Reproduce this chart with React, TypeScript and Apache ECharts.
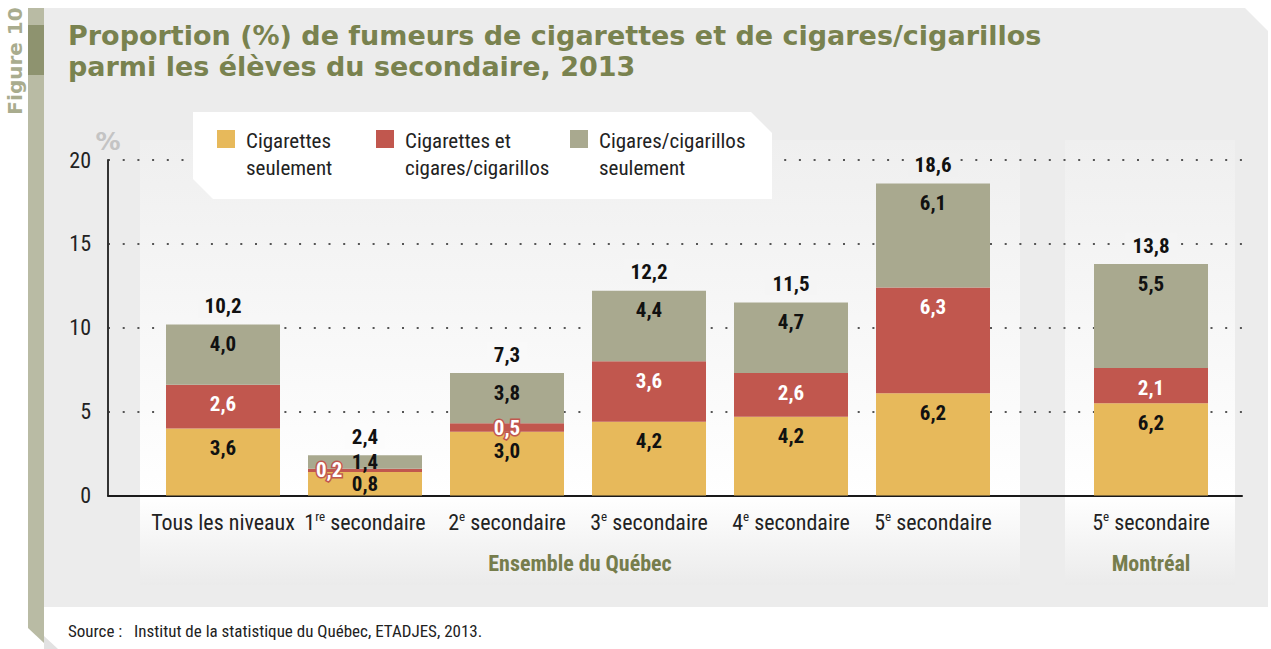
import React, { useEffect, useRef } from 'react';
import * as echarts from 'echarts';

const NARROW = '"Liberation Sans Narrow", "Arial Narrow", "Roboto Condensed", "DejaVu Sans Condensed", sans-serif';
const WIDE = '"DejaVu Sans", Verdana, sans-serif';

// ---- data (label values as printed in the figure) ----
const quebecCategories = ['Tous les niveaux', '1{s|re} secondaire', '2{s|e} secondaire', '3{s|e} secondaire', '4{s|e} secondaire', '5{s|e} secondaire'];
const montrealCategories = ['5{s|e} secondaire'];

const cigarettesSeulementQc = [3.6, 0.8, 3.0, 4.2, 4.2, 6.2];
const cigarettesEtCigaresQc = [2.6, 0.2, 0.5, 3.6, 2.6, 6.3];
const cigaresSeulementQc = [4.0, 1.4, 3.8, 4.4, 4.7, 6.1];
const totalQc = [10.2, 2.4, 7.3, 12.2, 11.5, 18.6];

const cigarettesSeulementMtl = [6.2];
const cigarettesEtCigaresMtl = [2.1];
const cigaresSeulementMtl = [5.5];
const totalMtl = [13.8];

// In the source figure the yellow and grey segment heights are drawn swapped
// relative to their printed labels; the drawing is reproduced as published.
const yellowHeightsQc = cigaresSeulementQc;
const greyHeightsQc = cigarettesSeulementQc;
const yellowHeightsMtl = cigaresSeulementMtl;
const greyHeightsMtl = cigarettesSeulementMtl;

const yMin = 0;
const yMax = 20;
const yInterval = 5;

const legendItems = ['Cigarettes\nseulement', 'Cigarettes et\ncigares/cigarillos', 'Cigares/cigarillos\nseulement'];

const YELLOW = '#e7b95b';
const RED = '#c1574e';
const GREY = '#a9a98f';
const OLIVE = '#79824f';

const fmt = (v: number) => v.toFixed(1).replace('.', ',');

export default function App() {
  const ref = useRef<HTMLDivElement>(null);

  useEffect(() => {
    document.body.style.margin = '0';
    const chart = echarts.init(ref.current!, undefined, { renderer: 'svg' });

    const gridTop = 160;
    const gridH = 335.5;

    // panel gradient shade behind a given value (matches the inner panel gradient)
    const panelShade = (v: number) => {
      const yPix = gridTop + gridH - (v / yMax) * gridH - 20;
      const t = Math.min(1, Math.max(0, (yPix - 140) / 356));
      const c = Math.round(239 + t * 16);
      return `rgb(${c},${c},${c})`;
    };

    const baseLabel = {
      show: true,
      position: 'insideTop',
      distance: 9,
      fontFamily: NARROW,
      fontSize: 21,
      fontWeight: 'bold',
    };
    const smallRed = {
      color: '#fff',
      textBorderColor: RED,
      textBorderWidth: 3,
      position: 'inside',
    };

    const mkStack = (
      xi: number,
      stack: string,
      yellowH: number[],
      redH: number[],
      greyH: number[],
      yellowLbl: number[],
      redLbl: number[],
      greyLbl: number[],
      totals: number[],
      overrides: Record<string, Record<number, any>>
    ) => {
      const common = {
        type: 'bar',
        xAxisIndex: xi,
        yAxisIndex: xi,
        stack,
        stackStrategy: 'all',
        barWidth: 114,
        silent: true,
      };
      const items = (arr: number[], key: string) =>
        arr.map((v, i) => (overrides[key] && overrides[key][i] ? { value: v, label: overrides[key][i] } : v));
      return [
        {
          ...common,
          name: 'Cigarettes seulement',
          data: items(yellowH, 'y'),
          itemStyle: { color: YELLOW },
          label: { ...baseLabel, color: '#111', formatter: (p: any) => fmt(yellowLbl[p.dataIndex]) },
        },
        {
          ...common,
          name: 'Cigarettes et cigares/cigarillos',
          data: items(redH, 'r'),
          itemStyle: { color: RED },
          label: { ...baseLabel, color: '#fff', formatter: (p: any) => fmt(redLbl[p.dataIndex]) },
        },
        {
          ...common,
          name: 'Cigares/cigarillos seulement',
          data: items(greyH, 'g'),
          itemStyle: { color: GREY },
          label: { ...baseLabel, color: '#111', formatter: (p: any) => fmt(greyLbl[p.dataIndex]) },
        },
        {
          ...common,
          name: 'Total',
          data: totals.map((t) => ({ value: 0, label: { backgroundColor: panelShade(t) } })),
          itemStyle: { color: 'rgba(0,0,0,0)' },
          label: {
            show: true,
            position: 'top',
            distance: 7,
            fontFamily: NARROW,
            fontSize: 21,
            fontWeight: 'bold',
            color: '#111',
            padding: [2, 7, 1, 7],
            formatter: (p: any) => fmt(totals[p.dataIndex]),
          },
        },
      ];
    };

    const seriesQc = mkStack(1, 'qc', yellowHeightsQc, cigarettesEtCigaresQc, greyHeightsQc,
      cigarettesSeulementQc, cigarettesEtCigaresQc, cigaresSeulementQc, totalQc, {
        y: { 1: { position: 'inside' } },
        r: { 1: { ...smallRed, position: 'insideLeft', distance: 8 }, 2: { ...smallRed } },
        g: { 1: { position: 'inside' } },
      });
    const seriesMtl = mkStack(2, 'mtl', yellowHeightsMtl, cigarettesEtCigaresMtl, greyHeightsMtl,
      cigarettesSeulementMtl, cigarettesEtCigaresMtl, cigaresSeulementMtl, totalMtl, {});

    const catAxisLabel = {
      interval: 0,
      margin: 14,
      fontFamily: NARROW,
      fontSize: 22,
      color: '#222',
      lineHeight: 26,
      formatter: (v: string) => v,
      rich: {
        s: { fontFamily: NARROW, fontSize: 13, color: '#222', verticalAlign: 'top', lineHeight: 14 },
      },
    };

    const legendX = [217, 376, 570];
    const legendColors = [YELLOW, RED, GREY];

    const graphic: any[] = [
      // main grey panel
      { type: 'polygon', z: -30, shape: { points: [[44, 8], [1245, 8], [1268, 31], [1268, 607], [44, 607]] }, style: { fill: '#ececec' } },
      // left band
      { type: 'polygon', z: -30, shape: { points: [[28, 8], [44, 8], [44, 643], [28, 628]] }, style: { fill: '#b9bba4' } },
      { type: 'rect', z: -29, shape: { x: 28, y: 25, width: 16, height: 50 }, style: { fill: '#8e936f' } },
      { type: 'polygon', z: -30, shape: { points: [[44, 636], [58, 649], [44, 649]] }, style: { fill: '#e2e2e2' } },
      // inner plot panels
      {
        type: 'rect', z: -25, shape: { x: 140, y: 140, width: 880, height: 445 },
        style: { fill: new echarts.graphic.LinearGradient(0, 0, 0, 1, [
          { offset: 0, color: '#efefef' }, { offset: 0.8, color: '#ffffff' }, { offset: 1, color: '#ebebeb' }]) },
      },
      {
        type: 'rect', z: -25, shape: { x: 1065, y: 140, width: 170, height: 445 },
        style: { fill: new echarts.graphic.LinearGradient(0, 0, 0, 1, [
          { offset: 0, color: '#efefef' }, { offset: 0.8, color: '#ffffff' }, { offset: 1, color: '#ebebeb' }]) },
      },
      // title
      { type: 'text', z: 5, x: 68, y: 35, style: { text: 'Proportion (%) de fumeurs de cigarettes et de cigares/cigarillos', font: `bold 27px ${WIDE}`, fill: OLIVE, verticalAlign: 'middle' } },
      { type: 'text', z: 5, x: 68, y: 66, style: { text: 'parmi les élèves du secondaire, 2013', font: `bold 27px ${WIDE}`, fill: OLIVE, verticalAlign: 'middle' } },
      // figure label
      { type: 'text', z: 5, x: 15, y: 61, rotation: Math.PI / 2, style: { text: 'Figure 10', font: `bold 20px ${WIDE}`, fill: '#a9ac8e', align: 'center', verticalAlign: 'middle' } },
      // % unit
      { type: 'text', z: 5, x: 108, y: 141, style: { text: '%', font: `bold 25px ${WIDE}`, fill: '#c4c4c4', align: 'center', verticalAlign: 'middle' } },
      // legend box
      { type: 'polygon', z: 20, shape: { points: [[193, 112], [751, 112], [772, 133], [772, 199], [213, 199], [193, 179]] }, style: { fill: '#ffffff' } },
      ...legendItems.flatMap((t, i) => [
        { type: 'rect', z: 21, shape: { x: legendX[i], y: 130, width: 18, height: 18 }, style: { fill: legendColors[i] } },
        { type: 'text', z: 21, x: legendX[i] + 29, y: 127, style: { text: t, font: `21px ${NARROW}`, fill: '#222', lineHeight: 27, verticalAlign: 'top' } },
      ]),
      // group labels
      { type: 'text', z: 5, x: 580, y: 563, style: { text: 'Ensemble du Québec', font: `bold 22px ${NARROW}`, fill: '#767d4c', align: 'center', verticalAlign: 'middle' } },
      { type: 'text', z: 5, x: 1151, y: 563, style: { text: 'Montréal', font: `bold 22px ${NARROW}`, fill: '#767d4c', align: 'center', verticalAlign: 'middle' } },
      // source
      { type: 'text', z: 5, x: 68, y: 631, style: { text: 'Source :   Institut de la statistique du Québec, ETADJES, 2013.', font: `17px ${NARROW}`, fill: '#222', verticalAlign: 'middle' } },
    ];

    const option: any = {
      animation: false,
      backgroundColor: '#ffffff',
      textStyle: { fontFamily: NARROW },
      graphic,
      grid: [
        { left: 108, top: gridTop, width: 1134, height: gridH },
        { left: 152, top: gridTop, width: 852, height: gridH },
        { left: 1080, top: gridTop, width: 142, height: gridH },
      ],
      xAxis: [
        {
          gridIndex: 0, type: 'value', min: 0, max: 1,
          axisLine: { show: true, lineStyle: { color: '#1a1a1a', width: 2 } },
          axisTick: { show: false }, axisLabel: { show: false }, splitLine: { show: false },
        },
        {
          gridIndex: 1, type: 'category', data: quebecCategories,
          axisLine: { show: false }, axisTick: { show: false }, axisLabel: catAxisLabel,
        },
        {
          gridIndex: 2, type: 'category', data: montrealCategories,
          axisLine: { show: false }, axisTick: { show: false }, axisLabel: catAxisLabel,
        },
      ],
      yAxis: [
        {
          gridIndex: 0, type: 'value', min: yMin, max: yMax, interval: yInterval,
          axisLine: { show: true, lineStyle: { color: '#333', width: 2 } },
          axisTick: { show: false },
          axisLabel: { margin: 17, fontFamily: NARROW, fontSize: 22, color: '#222' },
          splitLine: { show: true, lineStyle: { color: '#555', width: 2, type: [2, 12.7] } },
        },
        { gridIndex: 1, type: 'value', min: yMin, max: yMax, interval: yInterval, show: false },
        { gridIndex: 2, type: 'value', min: yMin, max: yMax, interval: yInterval, show: false },
      ],
      series: [...seriesQc, ...seriesMtl],
    };

    chart.setOption(option);
    return () => chart.dispose();
  }, []);

  return <div ref={ref} style={{ width: 1271, height: 649 }} />;
}
